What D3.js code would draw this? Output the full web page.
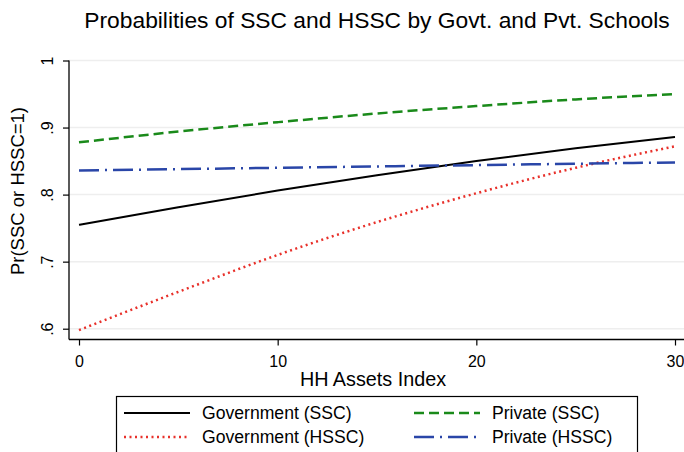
<!DOCTYPE html>
<html><head><meta charset="utf-8">
<script src="https://cdn.jsdelivr.net/npm/d3@7"></script>
<style>body{margin:0;background:#fff}svg{display:block;font-family:"Liberation Sans",Arial,sans-serif}</style>
</head><body><svg id="c" width="684" height="452"></svg>
<script>
const xValues = [0, 5, 10, 15, 20, 25, 30];
const govSSC  = [0.755, 0.781, 0.806, 0.829, 0.850, 0.869, 0.886];
const govHSSC = [0.598, 0.655, 0.710, 0.759, 0.802, 0.840, 0.872];
const pvtSSC  = [0.878, 0.894, 0.908, 0.921, 0.932, 0.942, 0.950];
const pvtHSSC = [0.836, 0.838, 0.840, 0.842, 0.844, 0.846, 0.848];
const xTicks = [0, 10, 20, 30];
const yTicks = [0.6, 0.7, 0.8, 0.9, 1];
const yTickLabels = [".6", ".7", ".8", ".9", "1"];
const seriesNames = ["Government (SSC)", "Private (SSC)", "Government (HSSC)", "Private (HSSC)"];

const svg = d3.select("#c");
const x = d3.scaleLinear().domain([0, 30]).range([79, 675]);
const y = d3.scaleLinear().domain([0.6, 1]).range([328.7, 60.5]);
const left = 69, bottom = 339.5, right = 684;

const styles = [
  {name: seriesNames[0], data: govSSC, color: "#000000", dash: null, w: 2},
  {name: seriesNames[1], data: pvtSSC, color: "#1a8a1a", dash: "10,5", w: 2.5},
  {name: seriesNames[2], data: govHSSC, color: "#e8302a", dash: "2,3.5", w: 2.5},
  {name: seriesNames[3], data: pvtHSSC, color: "#2a46a8", dash: "20,6,2,6", w: 2.5}
];

// gridlines
svg.append("g").selectAll("line").data(yTicks).join("line")
  .attr("x1", left).attr("x2", right)
  .attr("y1", d => y(d)).attr("y2", d => y(d))
  .attr("stroke", "#eeeeee").attr("stroke-width", 1.5);

// title
svg.append("text").attr("x", 377).attr("y", 28).attr("text-anchor", "middle")
  .style("font-size", "22.8px").attr("fill", "#000")
  .text("Probabilities of SSC and HSSC by Govt. and Pvt. Schools");

// lines
const line = d3.line().x((d, i) => x(xValues[i])).y(d => y(d)).curve(d3.curveMonotoneX);
styles.forEach(s => {
  svg.append("path").datum(s.data).attr("d", line)
    .attr("fill", "none").attr("stroke", s.color).attr("stroke-width", s.w)
    .attr("stroke-dasharray", s.dash);
});

// y axis
const yAxis = svg.append("g").attr("transform", `translate(${left},0)`)
  .call(d3.axisLeft(y).tickValues(yTicks).tickSize(6).tickFormat((d, i) => yTickLabels[i]));
yAxis.attr("font-size", null).attr("font-family", null);
yAxis.select(".domain").attr("d", `M0,${y(1)}V${bottom}`).attr("stroke-width", 1.3);
yAxis.selectAll(".tick line").attr("stroke-width", 1.2);
yAxis.selectAll(".tick text").style("font-size", "16px")
  .attr("fill", "#000")
  .attr("transform", "rotate(-90)").attr("x", 0).attr("y", -16).attr("dy", "0")
  .attr("text-anchor", "middle");

// x axis
const xAxis = svg.append("g").attr("transform", `translate(0,${bottom})`)
  .call(d3.axisBottom(x).tickValues(xTicks).tickSize(6).tickFormat(d3.format("d")));
xAxis.attr("font-size", null).attr("font-family", null);
xAxis.select(".domain").attr("d", `M${left},0H${right}`).attr("stroke-width", 1.3);
xAxis.selectAll(".tick line").attr("stroke-width", 1.2);
xAxis.selectAll(".tick text").style("font-size", "16px")
  .attr("fill", "#000").attr("dy", null).attr("y", 27.5);

// axis titles
svg.append("text").attr("x", 373).attr("y", 386).attr("text-anchor", "middle")
  .style("font-size", "19.8px").text("HH Assets Index");
svg.append("text").attr("transform", "translate(24,191) rotate(-90)").attr("text-anchor", "middle")
  .style("font-size", "18.5px").text("Pr(SSC or HSSC=1)");

// legend
const lg = svg.append("g");
lg.append("rect").attr("x", 116.5).attr("y", 396.5).attr("width", 521).attr("height", 70)
  .attr("fill", "#fff").attr("stroke", "#000").attr("stroke-width", 1.2);
const pos = [[124, 413], [414, 413], [124, 437], [414, 437]];
styles.forEach((s, i) => {
  const [lx, ly] = pos[i];
  lg.append("line").attr("x1", lx).attr("x2", lx + 66).attr("y1", ly).attr("y2", ly)
    .attr("stroke", s.color).attr("stroke-width", s.w).attr("stroke-dasharray", s.dash);
  lg.append("text").attr("x", lx + 78).attr("y", ly + 6.3).style("font-size", "17.6px").text(s.name);
});
</script></body></html>
